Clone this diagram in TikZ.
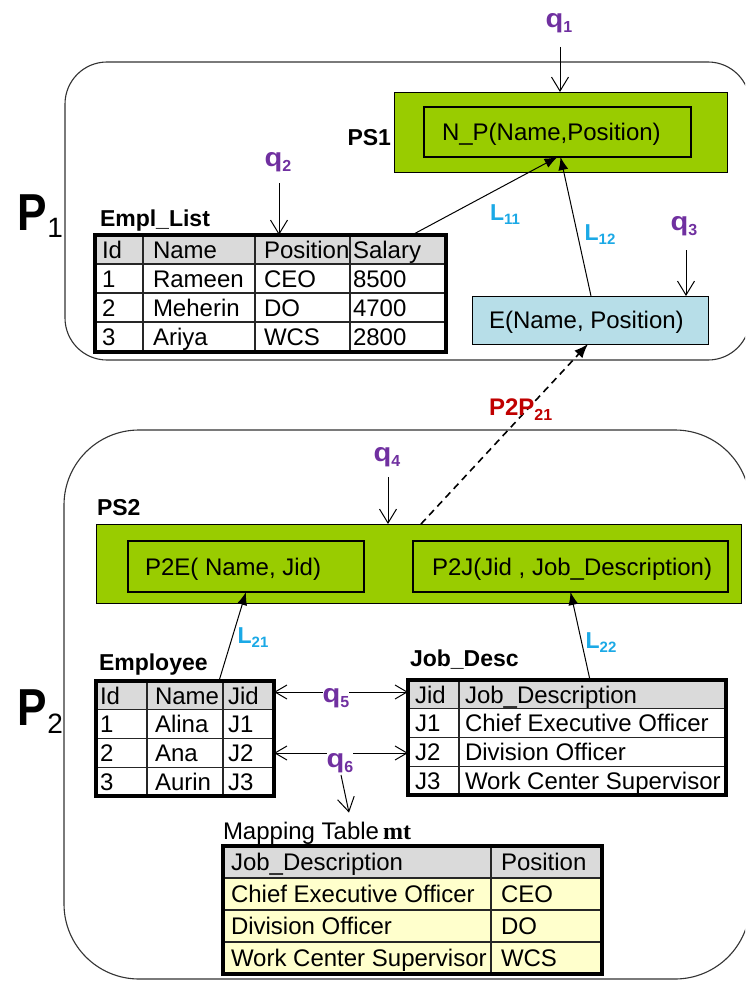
\documentclass[tikz,border=0pt]{standalone}
\usepackage{fontspec}
\usepackage{graphicx}
\setmainfont{Liberation Sans}
\newfontfamily\serifbold{Liberation Serif}
\usetikzlibrary{arrows.meta,calc}

\definecolor{psgreen}{HTML}{99CC00}
\definecolor{ebox}{HTML}{B7DEE8}
\definecolor{hdrgray}{HTML}{DADADA}
\definecolor{mtyellow}{HTML}{FFFFCC}
\definecolor{qpurple}{HTML}{7030A0}
\definecolor{lcyan}{HTML}{1BA9E6}
\definecolor{pred}{HTML}{C00000}
\definecolor{edge}{HTML}{333333}

\newcommand\tabsize{\fontsize{24}{26}\selectfont}
% lowered subscript: optional drop, size, text
\newcommand\lowsub[3][-4pt]{\raisebox{#1}{\fontsize{#2}{#2}\selectfont #3}}
\newcommand\qname[1]{\scalebox{1.12}[1]{q}\lowsub[-5pt]{16}{#1}}
\newcommand\lname[1]{L\lowsub[-4pt]{15}{#1}}

\begin{document}
\begin{tikzpicture}[x=1pt,y=-1pt,
  every node/.style={inner sep=0pt, outer sep=0pt},
  region/.style={draw=edge, line width=1.1pt, anchor=north west},
  boxnode/.style={draw=black, anchor=north west},
  tabtext/.style={anchor=base west, font=\tabsize},
  tframe/.style={draw=black, line width=3.2pt, anchor=north west},
  tgrid/.style={draw=black!85, line width=1.1pt},
  qlab/.style={anchor=base, text=qpurple, font=\fontsize{26}{26}\selectfont\bfseries},
  llab/.style={anchor=base, text=lcyan, font=\fontsize{23}{23}\selectfont\bfseries},
  tlab/.style={anchor=base west, font=\fontsize{23}{23}\selectfont\bfseries},
  qarr/.style={line width=1pt, -{Straight Barb[length=14pt,width=17pt,line width=1pt]}},
  dblarr/.style={line width=1pt, {Straight Barb[length=12pt,width=14pt,line width=1pt]}-{Straight Barb[length=12pt,width=14pt,line width=1pt]}},
  larr/.style={line width=1pt, -{Latex[length=13pt,width=10pt]}},
  darr/.style={line width=1.6pt, dash pattern=on 7pt off 5pt, -{Latex[length=14pt,width=11pt]}}
]
\useasboundingbox (0,0) rectangle (745,982);
\clip (0,0) rectangle (745,982);
\fill[white] (0,0) rectangle (745,982);

% ---------- peer regions ----------
\node[region, rounded corners=42pt, minimum width=685pt, minimum height=298pt] (p1box) at (65,62) {};
\node[region, rounded corners=75pt, minimum width=686pt, minimum height=549pt] (p2box) at (64,430) {};

\node[anchor=base west] (p1lab) at (17,230)
  {\fontsize{52}{52}\selectfont\bfseries\scalebox{0.85}[1]{P}\kern1pt\raisebox{-7pt}{\fontsize{28}{28}\selectfont\mdseries 1}};
\node[anchor=base west] (p2lab) at (17,725)
  {\fontsize{52}{52}\selectfont\bfseries\scalebox{0.85}[1]{P}\kern1pt\raisebox{-8pt}{\fontsize{28}{28}\selectfont\mdseries 2}};

% ---------- peer schema PS1 ----------
\node[boxnode, fill=psgreen, line width=1pt, minimum width=333pt, minimum height=80pt] (ps1) at (394,92) {};
\node[boxnode, line width=1.5pt, minimum width=267pt, minimum height=50pt] (np) at (424,107) {};
\node[tabtext] (nptext) at (442,140.5) {N\_P(Name,Position)};
\node[tlab, anchor=base east] (ps1lab) at (391,145) {PS1};

% ---------- E box ----------
\node[boxnode, fill=ebox, line width=1pt, minimum width=236pt, minimum height=48pt] (eps) at (472,296) {};
\node[tabtext] (etext) at (489,328.5) {E(Name, Position)};

% ---------- Empl_List ----------
\node[tlab] (empllab) at (100,226) {Empl\_List};
\fill[hdrgray] (95,235) rectangle (446,264);
\draw[tgrid] (143,235) -- (143,352) (255,235) -- (255,352) (350,235) -- (350,352)
             (95,264) -- (446,264) (95,293) -- (446,293) (95,322) -- (446,322);
\foreach \a/\b/\c/\d [count=\i] in {Id/Name/Position/Salary,1/Rameen/CEO/8500,2/Meherin/DO/4700,3/Ariya/WCS/2800}{
  \pgfmathsetmacro\yb{258+29*(\i-1)}
  \node[tabtext] (el-\i-1) at (102,\yb) {\a};
  \node[tabtext] (el-\i-2) at (153,\yb) {\b};
  \node[tabtext] (el-\i-3) at (264,\yb) {\c};
  \node[tabtext] (el-\i-4) at (353,\yb) {\d};
}
\node[tframe, minimum width=351pt, minimum height=117pt] (empl) at (95,235) {};

% ---------- peer schema PS2 ----------
\node[tlab] (ps2lab) at (97,515) {PS2};
\node[boxnode, fill=psgreen, line width=1pt, minimum width=645pt, minimum height=79pt] (ps2) at (96,524) {};
\node[boxnode, line width=1.5pt, minimum width=236pt, minimum height=51pt] (p2e) at (128,541) {};
\node[boxnode, line width=1.5pt, minimum width=315pt, minimum height=51pt] (p2j) at (413,541) {};
\node[tabtext] (p2etext) at (145,575) {P2E( Name, Jid)};
\node[tabtext] (p2jtext) at (432,575) {P2J(Jid , Job\_Description)};

% ---------- Employee ----------
\node[tlab] (emplab) at (99,670) {Employee};
\fill[hdrgray] (96,681) rectangle (274,709.75);
\draw[tgrid] (147,681) -- (147,796) (223,681) -- (223,796)
             (96,709.75) -- (274,709.75) (96,738.5) -- (274,738.5) (96,767.25) -- (274,767.25);
\foreach \a/\b/\c [count=\i] in {Id/Name/Jid,1/Alina/J1,2/Ana/J2,3/Aurin/J3}{
  \pgfmathsetmacro\yb{704+28.75*(\i-1)}
  \node[tabtext] (em-\i-1) at (100,\yb) {\a};
  \node[tabtext] (em-\i-2) at (155,\yb) {\b};
  \node[tabtext] (em-\i-3) at (228,\yb) {\c};
}
\node[tframe, minimum width=178pt, minimum height=115pt] (emp) at (96,681) {};

% ---------- Job_Desc ----------
\node[tlab] (joblab) at (410,666) {Job\_Desc};
\fill[hdrgray] (408,680) rectangle (726,708.75);
\draw[tgrid] (459,680) -- (459,795)
             (408,708.75) -- (726,708.75) (408,737.5) -- (726,737.5) (408,766.25) -- (726,766.25);
\foreach \a/\b [count=\i] in {Jid/Job\_Description,J1/Chief Executive Officer,J2/Division Officer,J3/Work Center Supervisor}{
  \pgfmathsetmacro\yb{703+28.75*(\i-1)}
  \node[tabtext] (jd-\i-1) at (415,\yb) {\a};
  \node[tabtext] (jd-\i-2) at (465,\yb) {\b};
}
\node[tframe, minimum width=318pt, minimum height=115pt] (job) at (408,680) {};

% ---------- Mapping table ----------
\node[anchor=base west, font=\tabsize] (mtlab) at (223,839) {Mapping Table\,{\serifbold\bfseries mt}};
\fill[hdrgray] (223,846) rectangle (602,878);
\fill[mtyellow] (223,878) rectangle (602,974);
\draw[tgrid] (491,846) -- (491,974)
             (223,878) -- (602,878) (223,910) -- (602,910) (223,942) -- (602,942);
\foreach \a/\b [count=\i] in {Job\_Description/Position,Chief Executive Officer/CEO,Division Officer/DO,Work Center Supervisor/WCS}{
  \pgfmathsetmacro\yb{870.5+32*(\i-1)}
  \node[tabtext] (mt-\i-1) at (231,\yb) {\a};
  \node[tabtext] (mt-\i-2) at (501,\yb) {\b};
}
\node[tframe, minimum width=379pt, minimum height=128pt] (mt) at (223,846) {};

% ---------- queries ----------
\node[qlab] (q1) at (559,28) {\qname{1}};
\node[qlab] (q2) at (278,166) {\qname{2}};
\node[qlab] (q3) at (684,230) {\qname{3}};
\node[qlab] (q4) at (387,461) {\qname{4}};
\draw[qarr] ([xshift=1pt,yshift=-19pt]q1.base) -- ([xshift=1pt]q1.base |- ps1.north);
\draw[qarr] ([xshift=1pt,yshift=-17pt]q2.base) -- ([xshift=1pt]q2.base |- empl.north);
\draw[qarr] ([xshift=2pt,yshift=-20pt]q3.base) -- ([xshift=2pt]q3.base |- eps.north);
\draw[qarr] ([xshift=1pt,yshift=-16pt]q4.base) -- ([xshift=1pt]q4.base |- ps2.north);

\draw[dblarr] ($(emp.north east)+(0,11)$) -- ($(job.north west)+(0,12)$);
\draw[dblarr] ($(emp.north east)+(0,72)$) -- ($(job.north west)+(0,73)$);
\node[qlab, fill=white] (q5) at (336,702) {\qname{5}};
\node[qlab, fill=white] (q6) at (340,767) {\qname{6}};
\draw[qarr] ([xshift=1pt,yshift=-8pt]q6.base) -- ($(mtlab.north west)+(126,-9)$);

% ---------- mappings ----------
\draw[larr] ($(empl.north west)+(317,0)$) -- (np.south);
\draw[larr] ($(eps.north west)+(119,0)$) -- ($(np.south)+(3,0)$);
\draw[larr] ($(emp.north west)+(123,0)$) -- (p2e.south);
\draw[larr] ($(job.north west)+(182,0)$) -- (p2j.south);
\draw[darr] ($(ps2.north west)+(325,0)$) -- ($(eps.south west)+(116,0)$);

\node[llab] (l11) at (505,220) {\lname{11}};
\node[llab] (l12) at (600,240) {\lname{12}};
\node[llab] (l21) at (253,643) {\lname{21}};
\node[llab] (l22) at (601,648) {\lname{22}};
\node[anchor=base west, text=pred, font=\fontsize{24}{24}\selectfont\bfseries] (p2p) at (489,415)
  {P2P\lowsub[-5pt]{16}{21}};
\end{tikzpicture}
\end{document}
